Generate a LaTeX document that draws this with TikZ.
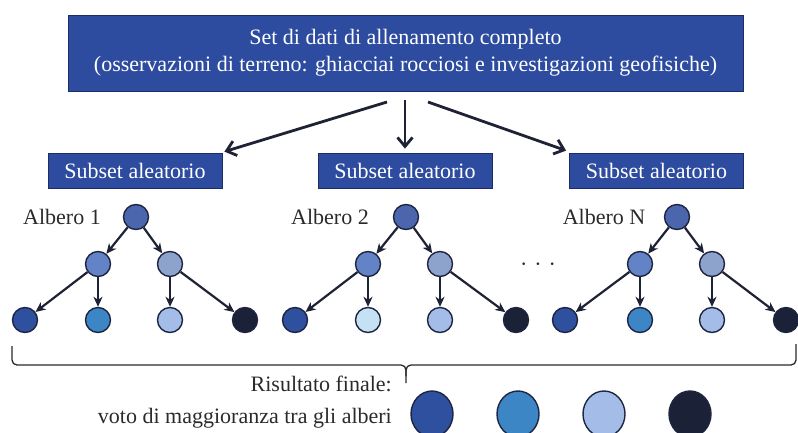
\documentclass[tikz,border=0pt]{standalone}
\usepackage{fontspec}
\setmainfont{Liberation Serif}
\usetikzlibrary{arrows.meta,shapes.geometric}
\definecolor{boxblue}{HTML}{2D4C9F}
\definecolor{boxedge}{HTML}{1E2C66}
\definecolor{nodeedge}{HTML}{1E2540}
\definecolor{arrowcol}{HTML}{1F2235}
\definecolor{txtgray}{HTML}{2A2A2A}
\definecolor{cRoot}{HTML}{4C66AD}
\definecolor{cLa}{HTML}{6482C6}
\definecolor{cLb}{HTML}{8EA3CC}
\definecolor{cDark}{HTML}{2E509E}
\definecolor{cMid}{HTML}{3D86C6}
\definecolor{cLight}{HTML}{A4BDE8}
\definecolor{cNavy}{HTML}{1B2238}
\definecolor{cPale}{HTML}{C4E2F4}
\begin{document}
\begin{tikzpicture}[x=1pt,y=-1pt,
  bigbox/.style={draw=boxedge, fill=boxblue, line width=0.8pt, text=white,
    font=\fontsize{22}{27}\selectfont, align=center, inner sep=0pt},
  subbox/.style={bigbox, minimum width=174pt, minimum height=35pt},
  tn/.style={circle, draw=nodeedge, line width=1.4pt, minimum size=25pt, inner sep=0pt},
  tedge/.style={line width=2.2pt, draw=arrowcol, -{Stealth[length=10pt,width=9pt,inset=3pt]}},
  bigarrow/.style={line width=2.8pt, draw=arrowcol, -{Straight Barb[length=9pt,width=15pt]}},
  lbl/.style={font=\fontsize{22}{27}\selectfont, text=txtgray, inner sep=0pt},
  res/.style={ellipse, draw=nodeedge, line width=1.4pt, minimum width=42pt, minimum height=46pt, inner sep=0pt},
  bracestyle/.style={draw=txtgray, line width=1.3pt, rounded corners=5pt}
]
\useasboundingbox (0,0) rectangle (798,432);

% top box
\node[bigbox, minimum width=675pt, minimum height=76pt] (top) at (405.5,53)
  {Set di dati di allenamento completo\\(osservazioni di terreno: ghiacciai rocciosi e investigazioni geofisiche)};

% subset boxes
\node[subbox] (sub1) at (135,170.5) {Subset aleatorio};
\node[subbox] (sub2) at (405,170.5) {Subset aleatorio};
\node[subbox] (sub3) at (656.5,170.5) {Subset aleatorio};

\coordinate (s1) at (387,102);
\coordinate (s2) at (405,100);
\coordinate (s3) at (428,102);
\draw[bigarrow] (s1) -- ([shift={(2,-1)}]sub1.north east);
\draw[bigarrow, shorten >=4pt] (s2) -- (sub2.north);
\draw[bigarrow] (s3) -- ([shift={(-3,-2)}]sub3.north west);

% labels
\node[lbl] (lab1) at (62,217) {Albero 1};
\node[lbl] (lab2) at (330,217) {Albero 2};
\node[lbl] (lab3) at (604,217) {Albero N};
\node[lbl] (dots) at (538,267) {·\hspace{7pt}·\hspace{7pt}·};

% tree 1
\node[tn, fill=cRoot] (t1r) at (136,217) {};
\node[tn, fill=cLa] (t1a) at (98,264) {};
\node[tn, fill=cLb] (t1b) at (170,264) {};
\node[tn, fill=cDark] (t1c1) at (25,320) {};
\node[tn, fill=cMid] (t1c2) at (98,320) {};
\node[tn, fill=cLight] (t1c3) at (170,320) {};
\node[tn, fill=cNavy] (t1c4) at (245,320) {};
\draw[tedge] (t1r) -- (t1a);
\draw[tedge] (t1r) -- (t1b);
\draw[tedge] (t1a) -- (t1c1);
\draw[tedge] (t1a) -- (t1c2);
\draw[tedge] (t1b) -- (t1c3);
\draw[tedge] (t1b) -- (t1c4);

% tree 2
\node[tn, fill=cRoot] (t2r) at (406,217) {};
\node[tn, fill=cLa] (t2a) at (368,264) {};
\node[tn, fill=cLb] (t2b) at (440,264) {};
\node[tn, fill=cDark] (t2c1) at (295,320) {};
\node[tn, fill=cPale] (t2c2) at (368,320) {};
\node[tn, fill=cLight] (t2c3) at (440,320) {};
\node[tn, fill=cNavy] (t2c4) at (516,320) {};
\draw[tedge] (t2r) -- (t2a);
\draw[tedge] (t2r) -- (t2b);
\draw[tedge] (t2a) -- (t2c1);
\draw[tedge] (t2a) -- (t2c2);
\draw[tedge] (t2b) -- (t2c3);
\draw[tedge] (t2b) -- (t2c4);

% tree N
\node[tn, fill=cRoot] (t3r) at (677,217) {};
\node[tn, fill=cLa] (t3a) at (640,264) {};
\node[tn, fill=cLb] (t3b) at (712,264) {};
\node[tn, fill=cDark] (t3c1) at (565,320) {};
\node[tn, fill=cMid] (t3c2) at (640,320) {};
\node[tn, fill=cLight] (t3c3) at (712,320) {};
\node[tn, fill=cNavy] (t3c4) at (786,320) {};
\draw[tedge] (t3r) -- (t3a);
\draw[tedge] (t3r) -- (t3b);
\draw[tedge] (t3a) -- (t3c1);
\draw[tedge] (t3a) -- (t3c2);
\draw[tedge] (t3b) -- (t3c3);
\draw[tedge] (t3b) -- (t3c4);

% brace
\draw[bracestyle] (12,346) -- (12,365) -- (406,365) -- (406,383);
\draw[bracestyle] (406,376) -- (406,365) -- (796,365) -- (796,344);

% result
\node[lbl, anchor=base east] (res1) at (392,391) {Risultato finale:};
\node[lbl, anchor=base east] (res2) at (392,423) {voto di maggioranza tra gli alberi};
\node[res, fill=cDark] (r1) at (432,414) {};
\node[res, fill=cMid] (r2) at (518,414) {};
\node[res, fill=cLight] (r3) at (604,414) {};
\node[res, fill=cNavy] (r4) at (690,414) {};
\end{tikzpicture}
\end{document}
